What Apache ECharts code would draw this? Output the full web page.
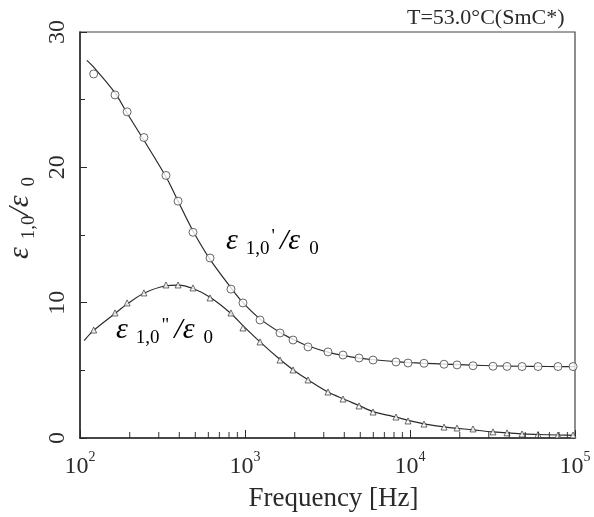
<!DOCTYPE html>
<html>
<head>
<meta charset="utf-8">
<script src="https://cdn.jsdelivr.net/npm/echarts@6/dist/echarts.min.js"></script>
<style>html,body{margin:0;padding:0;background:#fff}#c{width:594px;height:517px}</style>
</head>
<body>
<div id="c"></div>
<script>
// measured frequencies [Hz]
const freqs = [121, 163, 193, 244, 332, 393, 484, 614, 822, 972, 1233, 1630, 1954, 2409, 3184, 3926, 4911, 5970, 8222, 9726, 12160, 16080, 19280, 24090, 31840, 38730, 47760, 59700, 78880, 97300];
// real part eps'/eps0 (open circles)
const epsReal = [26.9, 25.35, 24.1, 22.2, 19.4, 17.5, 15.2, 13.3, 11.0, 9.98, 8.72, 7.76, 7.24, 6.73, 6.36, 6.13, 5.91, 5.76, 5.62, 5.54, 5.52, 5.45, 5.40, 5.34, 5.30, 5.29, 5.28, 5.28, 5.28, 5.28];
// imaginary part eps''/eps0 (open triangles)
const epsImag = [7.98, 9.24, 9.98, 10.72, 11.31, 11.31, 11.09, 10.35, 9.24, 8.13, 7.10, 5.76, 5.03, 4.29, 3.40, 2.88, 2.37, 1.92, 1.55, 1.26, 1.03, 0.81, 0.74, 0.67, 0.45, 0.38, 0.30, 0.26, 0.22, 0.22];
// fitted curves
const fitFreqsReal = [110, 121, 163, 193, 244, 332, 393, 484, 614, 822, 972, 1233, 1630, 1954, 2409, 3184, 3926, 4911, 5970, 8222, 9726, 12160, 16080, 24090, 31840, 47760, 59700, 78880, 100000];
const fitReal = [27.9, 27.4, 25.5, 24.0, 22.0, 19.3, 17.5, 15.3, 13.2, 11.1, 10.0, 8.8, 7.8, 7.3, 6.8, 6.35, 6.1, 5.9, 5.78, 5.64, 5.58, 5.52, 5.46, 5.38, 5.34, 5.30, 5.29, 5.28, 5.27];
const fitFreqsImag = [106, 121, 163, 193, 244, 332, 393, 484, 614, 822, 972, 1233, 1630, 1954, 2409, 3184, 3926, 4911, 5970, 8222, 9726, 12160, 16080, 24090, 31840, 47760, 59700, 78880, 100000];
const fitImag = [7.2, 7.95, 9.2, 9.9, 10.7, 11.25, 11.3, 11.05, 10.4, 9.2, 8.3, 7.1, 5.8, 5.05, 4.3, 3.4, 2.9, 2.4, 1.95, 1.55, 1.3, 1.05, 0.82, 0.6, 0.45, 0.3, 0.26, 0.22, 0.2];
// axis ticks
const xMajorTicks = [100, 1000, 10000, 100000];
const xMinorTicks = [200,300,400,500,600,700,800,900,2000,3000,4000,5000,6000,7000,8000,9000,20000,30000,40000,50000,60000,70000,80000,90000];
const yTicks = [0, 10, 20, 30];

const serif = '"Liberation Serif","DejaVu Serif",serif';
const ink = '#2a2a2a';
const chart = echarts.init(document.getElementById('c'), null, {renderer: 'canvas'});

const subRich = {
  e: {fontSize: 30, fontStyle: 'italic', fontFamily: serif, color: ink, verticalAlign: 'top', lineHeight: 32},
  s: {fontSize: 19, fontFamily: serif, color: ink, verticalAlign: 'top', padding: [14, 0, 0, 8], lineHeight: 19},
  z: {fontSize: 19, fontFamily: serif, color: ink, verticalAlign: 'top', padding: [14, 0, 0, 9], lineHeight: 19},
  p: {fontSize: 19, fontFamily: serif, color: ink, verticalAlign: 'top', padding: [2, 5, 0, 2], lineHeight: 19}
};

chart.setOption({
  animation: false,
  backgroundColor: '#fff',
  grid: {left: 80, right: 19, top: 32, bottom: 79, outerBoundsMode: 'none', containLabel: false,
    show: true, borderColor: '#444', borderWidth: 1.2, backgroundColor: 'transparent'},
  xAxis: {
    type: 'log', logBase: 10, min: xMajorTicks[0], max: xMajorTicks[xMajorTicks.length - 1],
    name: 'Frequency [Hz]', nameLocation: 'middle', nameGap: 47,
    nameTextStyle: {fontFamily: serif, fontSize: 27, color: ink, padding: [0, 0, 0, 12]},
    axisLine: {lineStyle: {color: ink, width: 1.5}},
    axisTick: {inside: true, length: 8, lineStyle: {color: ink}},
    splitLine: {show: false},
    axisLabel: {
      margin: 12,
      formatter: v => '{b|10}{p|' + Math.round(Math.log10(v)) + '}',
      rich: {
        b: {fontSize: 24, fontFamily: serif, color: ink, verticalAlign: 'top', padding: [5, 0, 0, 0]},
        p: {fontSize: 14, fontFamily: serif, color: ink, verticalAlign: 'top'}
      }
    }
  },
  yAxis: {
    type: 'value', min: yTicks[0], max: yTicks[yTicks.length - 1], interval: 10,
    name: '{e|ε}{s|1,0}{e|/ε}{z|0}', nameLocation: 'middle', nameGap: 38, nameRotate: 90,
    nameTextStyle: {rich: subRich, padding: [0, 0, 0, 34]},
    axisLine: {lineStyle: {color: ink, width: 1.5}},
    axisTick: {inside: true, length: 7, lineStyle: {color: ink}},
    minorTick: {show: true, splitNumber: 2, length: 5, lineStyle: {color: ink}},
    splitLine: {show: false},
    axisLabel: {rotate: 90, margin: 10, fontSize: 24, fontFamily: serif, color: ink}
  },
  graphic: [
    {type: 'text', left: 407, top: 7, style: {text: 'T=53.0°C(SmC*)', fontFamily: serif, fontSize: 22, fill: ink}},
    {type: 'text', left: 226, top: 226, style: {text: "{e|ε}{s|1,0}{p|'}{e|/ε}{z|0}", rich: subRich}},
    {type: 'text', left: 116, top: 315, style: {text: '{e|ε}{s|1,0}{p|"}{e|/ε}{z|0}', rich: subRich}}
  ],
  series: [
    {type: 'line', data: fitFreqsReal.map((f, i) => [f, fitReal[i]]), smooth: 0.3, showSymbol: false, lineStyle: {color: ink, width: 1.2}, silent: true, z: 2},
    {type: 'line', data: fitFreqsImag.map((f, i) => [f, fitImag[i]]), smooth: 0.3, showSymbol: false, lineStyle: {color: ink, width: 1.2}, silent: true, z: 2},
    {type: 'scatter', data: freqs.map((f, i) => [f, epsReal[i]]), symbol: 'circle', symbolSize: 8, itemStyle: {color: '#fff', borderColor: '#444', borderWidth: 1}, z: 3},
    {type: 'scatter', data: freqs.map((f, i) => [f, epsImag[i]]), symbol: 'triangle', symbolSize: 6, itemStyle: {color: '#fff', borderColor: '#444', borderWidth: 1}, z: 3},
    {type: 'scatter', silent: true, z: 4, symbol: 'rect', symbolSize: [1.2, 6], symbolOffset: [0, -3],
      data: xMinorTicks.map(f => [f, 0]), itemStyle: {color: ink}}
  ]
});
</script>
</body>
</html>
